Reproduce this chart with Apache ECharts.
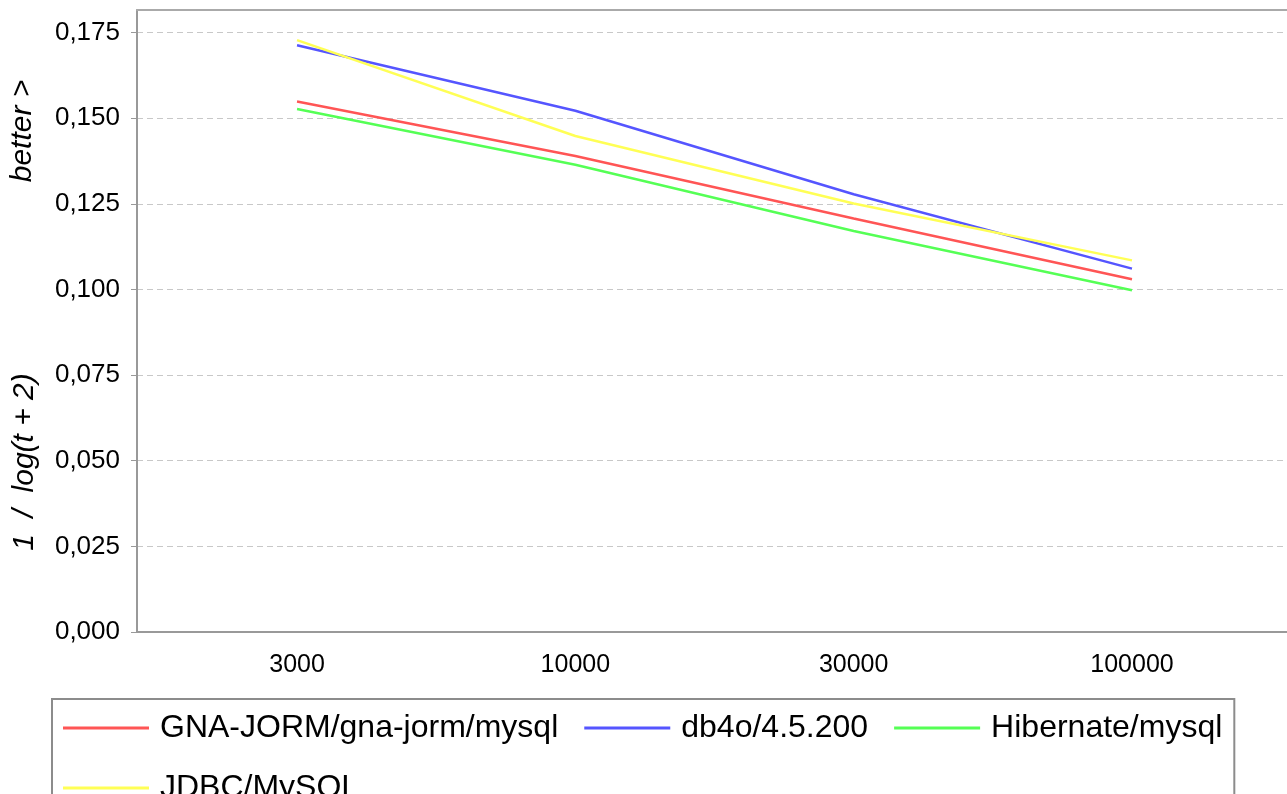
<!DOCTYPE html>
<html>
<head>
<meta charset="utf-8">
<script src="https://cdn.jsdelivr.net/npm/echarts@6/dist/echarts.min.js"></script>
<style>
html,body{margin:0;padding:0;background:#fff;}
#chart{width:1287px;height:794px;}
</style>
</head>
<body>
<div id="chart"></div>
<script>
var categories = ['3000', '10000', '30000', '100000'];
var seriesNames = ['GNA-JORM/gna-jorm/mysql', 'db4o/4.5.200', 'Hibernate/mysql', 'JDBC/MySQL'];
var gnaJorm   = [0.1549, 0.1390, 0.1207, 0.1030];
var db4o      = [0.1713, 0.1522, 0.1278, 0.1061];
var hibernate = [0.1527, 0.1364, 0.1171, 0.0998];
var jdbc      = [0.1728, 0.1448, 0.1251, 0.1085];
var yTickValues = [0, 0.025, 0.05, 0.075, 0.1, 0.125, 0.15, 0.175];

var colors = ['#ff5555', '#5555ff', '#55ff55', '#ffff55'];
var allValues = [gnaJorm, db4o, hibernate, jdbc];
var FONT = '"Liberation Sans", Arial, sans-serif';

function toPairs(vals) {
  return vals.map(function (v, i) { return [i, v]; });
}

var chart = echarts.init(document.getElementById('chart'), null, {renderer: 'canvas'});
var option = {
  animation: false,
  backgroundColor: '#ffffff',
  textStyle: {fontFamily: FONT},
  grid: {left: 137, right: 0, top: 10, bottom: 162, containLabel: false},
  xAxis: [{
    type: 'value',
    min: -0.575,
    max: 3.557,
    position: 'bottom',
    axisLine: {onZero: false, lineStyle: {color: '#999999', width: 2}},
    axisTick: {show: false},
    splitLine: {show: false},
    axisLabel: {
      customValues: [0, 1, 2, 3],
      formatter: function (v) { return categories[Math.round(v)]; },
      fontSize: 25, color: '#000', margin: 21, fontFamily: FONT
    }
  }, {
    type: 'value',
    min: -0.575,
    max: 3.557,
    position: 'top',
    axisLine: {onZero: false, lineStyle: {color: '#aaaaaa', width: 2}},
    axisTick: {show: false},
    splitLine: {show: false},
    axisLabel: {show: false}
  }],
  yAxis: {
    type: 'value',
    min: 0,
    max: 0.1816,
    interval: 0.025,
    axisLine: {show: true, onZero: false, lineStyle: {color: '#999999', width: 2}},
    axisTick: {show: true, length: 6, customValues: yTickValues, lineStyle: {color: '#999999', width: 1}},
    axisLabel: {
      customValues: yTickValues,
      formatter: function (v) { return v.toFixed(3).replace('.', ','); },
      fontSize: 26, color: '#000', margin: 17, fontFamily: FONT
    },
    splitLine: {show: true, lineStyle: {color: '#c8c8c8', width: 1, type: [6, 4]}}
  },
  legend: {
    left: 52,
    right: 46,
    top: 699,
    orient: 'horizontal',
    padding: [12, 12, 12, 11],
    itemGap: 26,
    itemWidth: 86,
    itemHeight: 3,
    icon: 'rect',
    borderColor: '#8c8c8c',
    borderWidth: 2,
    textStyle: {fontSize: 32, color: '#000', fontFamily: FONT, lineHeight: 34, padding: [0, 0, 0, 6]},
    data: seriesNames
  },
  graphic: [{
    type: 'text',
    x: 23, y: 131,
    rotation: Math.PI / 2,
    style: {text: 'better >', font: 'italic 30px "Liberation Sans", Arial, sans-serif', fill: '#000', textAlign: 'center', textVerticalAlign: 'middle'}
  }, {
    type: 'text',
    x: 25, y: 462,
    rotation: Math.PI / 2,
    style: {text: '1  /  log(t + 2)', font: 'italic 30px "Liberation Sans", Arial, sans-serif', fill: '#000', textAlign: 'center', textVerticalAlign: 'middle'}
  }],
  series: seriesNames.map(function (name, i) {
    return {
      name: name,
      type: 'line',
      xAxisIndex: 0,
      symbol: 'none',
      color: colors[i],
      itemStyle: {color: colors[i]},
      lineStyle: {color: colors[i], width: 2.5},
      data: toPairs(allValues[i])
    };
  })
};
chart.setOption(option);
</script>
</body>
</html>
